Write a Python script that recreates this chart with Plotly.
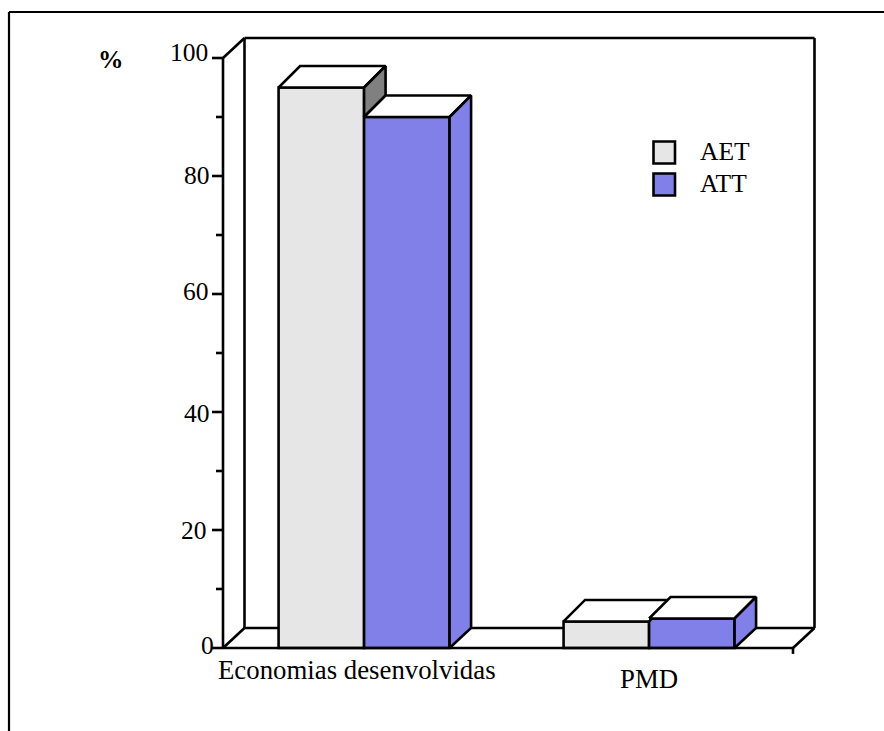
import plotly.graph_objects as go

# ---- data ----
categories = ["Economias desenvolvidas", "PMD"]
series_names = ["AET", "ATT"]
aet_values = [95, 4.5]
att_values = [90, 5]
major_ticks = [0, 20, 40, 60, 80, 100]
minor_ticks = [10, 30, 50, 70, 90]

# ---- layout constants ----
W, H = 884, 731
PX_X0, PX_PER_CAT = 223, 285
PX_Y0, PX_PER_UNIT = 648, 5.9
BAR_W = 0.3
CENTER = 0.495
DX, DZ = 21.5 / PX_PER_CAT, 20 / PX_PER_UNIT
BAR_DZ = 21.5 / PX_PER_UNIT
FONT = "Liberation Serif"
FS = 25.5
GREY, BLUE, DARK = "#E6E6E6", "#8080E8", "#808080"
LW = 2.6

x_range = [-PX_X0 / PX_PER_CAT, (W - PX_X0) / PX_PER_CAT]
y_range = [-(H - PX_Y0) / PX_PER_UNIT, PX_Y0 / PX_PER_UNIT]
n = len(categories)
centers = [i + CENTER for i in range(n)]
top = max(major_ticks)
tick_long = 11 / PX_PER_CAT
tick_short = 7 / PX_PER_CAT


def line(xs, ys, width=LW):
    return go.Scatter(x=xs, y=ys, mode="lines", line=dict(color="black", width=width),
                      hoverinfo="skip", showlegend=False, cliponaxis=False)


def face(xs, ys, color):
    return go.Scatter(x=xs + xs[:1], y=ys + ys[:1], mode="lines", fill="toself", fillcolor=color,
                      line=dict(color="black", width=LW), hoverinfo="skip",
                      showlegend=False, cliponaxis=False)


fig = go.Figure()

# front faces
for name, vals, col, off in [(series_names[0], aet_values, GREY, -BAR_W), (series_names[1], att_values, BLUE, 0)]:
    fig.add_trace(go.Bar(x=centers, y=vals, width=BAR_W, offset=off, name=name,
                         marker=dict(color=col, line=dict(color="black", width=LW)),
                         showlegend=False, hoverinfo="skip"))

# top and side faces
for c, a, b in zip(centers, aet_values, att_values):
    l, m, r = c - BAR_W, c, c + BAR_W
    fig.add_trace(face([l, m, m + DX, l + DX], [a, a, a + BAR_DZ, a + BAR_DZ], "white"))
    if a > b:
        fig.add_trace(face([m, m + DX, m + DX, m], [a, a + BAR_DZ, b + BAR_DZ, b], DARK))
    fig.add_trace(face([m, r, r + DX, m + DX], [b, b, b + BAR_DZ, b + BAR_DZ], "white"))
    fig.add_trace(face([r, r + DX, r + DX, r], [b, b + BAR_DZ, DZ, 0], BLUE))

# left axis, front floor edge, ticks
fig.add_trace(line([0, 0], [0, top]))
fig.add_trace(line([0, n], [0, 0]))
fig.add_trace(line([0, DX], [top, top + DZ]))
for t in major_ticks:
    fig.add_trace(line([-tick_long, 0], [t, t]))
for t in minor_ticks:
    fig.add_trace(line([-tick_short, 0], [t, t]))
fig.add_trace(line([n, n], [0, -1]))

# back wall and floor, under the bars
back_lines = [
    (DX, DZ, DX, top + DZ), (DX, top + DZ, n + DX, top + DZ), (n + DX, top + DZ, n + DX, DZ),
    (DX, DZ, n + DX, DZ), (0, 0, DX, DZ), (n, 0, n + DX, DZ),
]
shapes = [dict(type="line", xref="x", yref="y", x0=a, y0=b, x1=c, y1=d, layer="below",
               line=dict(color="black", width=LW)) for a, b, c, d in back_lines]
# outer frame of the page
shapes += [
    dict(type="line", xref="paper", yref="paper", x0=9 / W, y0=1 - 12 / H, x1=1, y1=1 - 12 / H,
         line=dict(color="black", width=2.2)),
    dict(type="line", xref="paper", yref="paper", x0=9 / W, y0=1 - 12 / H, x1=9 / W, y1=0,
         line=dict(color="black", width=2.2)),
]
# legend boxes
for cy, col in [(152.5, GREY), (184.5, BLUE)]:
    shapes.append(dict(type="rect", xref="paper", yref="paper", x0=653.5 / W, x1=675 / W,
                       y0=1 - (cy + 11) / H, y1=1 - (cy - 11) / H, fillcolor=col,
                       line=dict(color="black", width=2.6)))

font = dict(family=FONT, size=FS, color="black")
cat_font = dict(family=FONT, size=26.8, color="black")
annotations = []
# y tick labels: (right edge, vertical nudge) per label
tick_label_pos = {0: (216, 3), 20: (209, 0), 40: (212, -1), 60: (211, 3), 80: (212, 1), 100: (210, 6)}
for t in major_ticks:
    rx, dy = tick_label_pos[t]
    annotations.append(dict(x=rx / W, xref="paper", y=t, yref="y", text=str(t), showarrow=False,
                            xanchor="right", yanchor="middle", yshift=dy, font=font))
# category labels
for c, name, xs, py in zip(centers, categories, [-7, 0], [670, 679]):
    annotations.append(dict(x=c, xref="x", y=1 - py / H, yref="paper", text=name, showarrow=False,
                            xanchor="center", yanchor="middle", xshift=xs, font=cat_font))
# legend text
for name, py in zip(series_names, [151, 183]):
    annotations.append(dict(x=698 / W, xref="paper", y=1 - py / H, yref="paper", text=name, showarrow=False,
                            xanchor="left", yanchor="middle", font=font))
annotations.append(dict(x=111 / W, xref="paper", y=1 - 59 / H, yref="paper", text="<b>%</b>", showarrow=False,
                        xanchor="center", yanchor="middle", font=font))

fig.update_layout(
    width=W, height=H, margin=dict(l=0, r=0, t=0, b=0), paper_bgcolor="white", plot_bgcolor="white",
    barmode="overlay", showlegend=False, shapes=shapes, annotations=annotations,
    xaxis=dict(visible=False, range=x_range, fixedrange=True),
    yaxis=dict(visible=False, range=y_range, fixedrange=True),
)
fig.write_html("out.html", config=dict(displayModeBar=False),
               post_script="document.body.style.margin='0';document.body.style.overflow='hidden';")
